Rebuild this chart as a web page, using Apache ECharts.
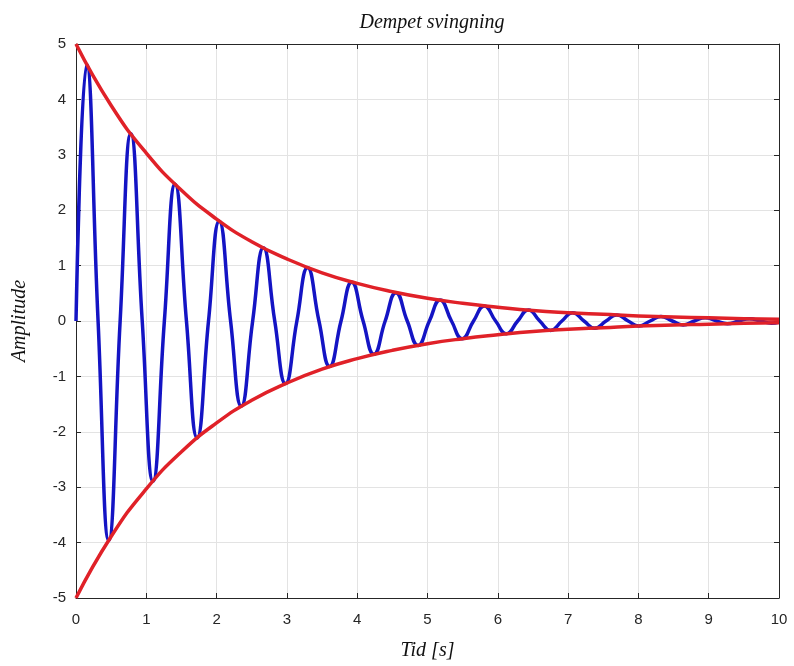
<!DOCTYPE html>
<html>
<head>
<meta charset="UTF-8">
<title>Dempet svingning</title>
<script src="https://cdn.jsdelivr.net/npm/echarts@6/dist/echarts.min.js"></script>
<style>
  html, body { margin: 0; padding: 0; background: #fff; }
  #main { width: 794px; height: 666px; }
</style>
</head>
<body>
<div id="main"></div>
<script type="text/javascript">
// tid [s] og amplitude for den blå kurven (topper og nullgjennomganger avlest)
var sigTime = [0, 0.152, 0.314, 0.466, 0.628, 0.780, 0.942, 1.095, 1.257, 1.409,
  1.571, 1.723, 1.885, 2.037, 2.199, 2.351, 2.513, 2.666, 2.827, 2.980,
  3.142, 3.294, 3.456, 3.608, 3.770, 3.922, 4.084, 4.237, 4.398, 4.551,
  4.712, 4.865, 5.027, 5.179, 5.341, 5.493, 5.655, 5.808, 5.969, 6.122,
  6.283, 6.436, 6.597, 6.750, 6.912, 7.064, 7.226, 7.379, 7.540, 7.693,
  7.854, 8.007, 8.168, 8.321, 8.482, 8.635, 8.796, 8.950, 9.111, 9.264,
  9.425, 9.578, 9.739, 9.892, 10];
var sigAmp = [0, 4.63, 0, -3.96, 0, 3.38, 0, -2.89, 0, 2.47,
  0, -2.11, 0, 1.80, 0, -1.54, 0, 1.32, 0, -1.13,
  0, 0.96, 0, -0.82, 0, 0.70, 0, -0.60, 0, 0.51,
  0, -0.44, 0, 0.38, 0, -0.32, 0, 0.27, 0, -0.23,
  0, 0.20, 0, -0.17, 0, 0.15, 0, -0.13, 0, 0.11,
  0, -0.09, 0, 0.08, 0, -0.07, 0, 0.06, 0, -0.05,
  0, 0.04, 0, -0.04, -0.02];

// omhyllingskurver (rød)
var envTime = [0, 0.5, 1, 1.5, 2, 2.5, 3, 3.5, 4, 4.5, 5, 5.5, 6, 6.5, 7, 7.5, 8, 8.5, 9, 9.5, 10];
var envUpper = [5, 3.89, 3.03, 2.36, 1.84, 1.43, 1.12, 0.87, 0.68, 0.53, 0.41,
  0.32, 0.25, 0.19, 0.15, 0.12, 0.09, 0.07, 0.06, 0.04, 0.03];
var envLower = [-5, -3.89, -3.03, -2.36, -1.84, -1.43, -1.12, -0.87, -0.68, -0.53, -0.41,
  -0.32, -0.25, -0.19, -0.15, -0.12, -0.09, -0.07, -0.06, -0.04, -0.03];

function pairs(xs, ys) {
  var out = [];
  for (var i = 0; i < xs.length; i++) out.push([xs[i], ys[i]]);
  return out;
}

var axisCol = '#262626';
var serif = '"Liberation Serif", "DejaVu Serif", serif';

var myChart = echarts.init(document.getElementById('main'));
var option = {
  animation: false,
  title: {
    text: 'Dempet svingning',
    left: 427, top: 8, textAlign: 'center',
    textStyle: { fontFamily: serif, fontStyle: 'italic', fontWeight: 'normal', fontSize: 20, color: '#111' }
  },
  grid: { left: 76, right: 15, top: 44, bottom: 68 },
  xAxis: [{
    type: 'value', min: 0, max: 10, interval: 1,
    name: 'Tid [s]', nameLocation: 'middle', nameGap: 43,
    nameTextStyle: { fontFamily: serif, fontStyle: 'italic', fontSize: 20, color: '#111' },
    axisLine: { show: true, onZero: false, lineStyle: { color: axisCol, width: 1 } },
    axisTick: { show: true, inside: true, length: 5, lineStyle: { color: axisCol } },
    axisLabel: { color: axisCol, fontSize: 15, margin: 14, fontFamily: 'Arial, "Liberation Sans", sans-serif' },
    splitLine: { show: true, lineStyle: { color: '#e3e3e3', width: 1 } }
  }, {
    type: 'value', min: 0, max: 10, interval: 1, position: 'top',
    axisLine: { show: true, onZero: false, lineStyle: { color: axisCol, width: 1 } },
    axisTick: { show: true, inside: true, length: 5, lineStyle: { color: axisCol } },
    axisLabel: { show: false },
    splitLine: { show: false }
  }],
  yAxis: [{
    type: 'value', min: -5, max: 5, interval: 1,
    name: 'Amplitude', nameLocation: 'middle', nameGap: 46, nameRotate: 90,
    nameTextStyle: { fontFamily: serif, fontStyle: 'italic', fontSize: 20, color: '#111' },
    axisLine: { show: true, onZero: false, lineStyle: { color: axisCol, width: 1 } },
    axisTick: { show: true, inside: true, length: 5, lineStyle: { color: axisCol } },
    axisLabel: { color: axisCol, fontSize: 15, margin: 10, fontFamily: 'Arial, "Liberation Sans", sans-serif' },
    splitLine: { show: true, lineStyle: { color: '#e3e3e3', width: 1 } }
  }, {
    type: 'value', min: -5, max: 5, interval: 1, position: 'right',
    axisLine: { show: true, onZero: false, lineStyle: { color: axisCol, width: 1 } },
    axisTick: { show: true, inside: true, length: 5, lineStyle: { color: axisCol } },
    axisLabel: { show: false },
    splitLine: { show: false }
  }],
  series: [{
    name: 'signal', type: 'line', data: pairs(sigTime, sigAmp),
    smooth: 0.5, showSymbol: false,
    lineStyle: { color: '#1414c4', width: 3.5 }
  }, {
    name: 'env+', type: 'line', data: pairs(envTime, envUpper),
    smooth: true, showSymbol: false,
    lineStyle: { color: '#e02128', width: 3.5 }
  }, {
    name: 'env-', type: 'line', data: pairs(envTime, envLower),
    smooth: true, showSymbol: false,
    lineStyle: { color: '#e02128', width: 3.5 }
  }]
};
myChart.setOption(option);
</script>
</body>
</html>
